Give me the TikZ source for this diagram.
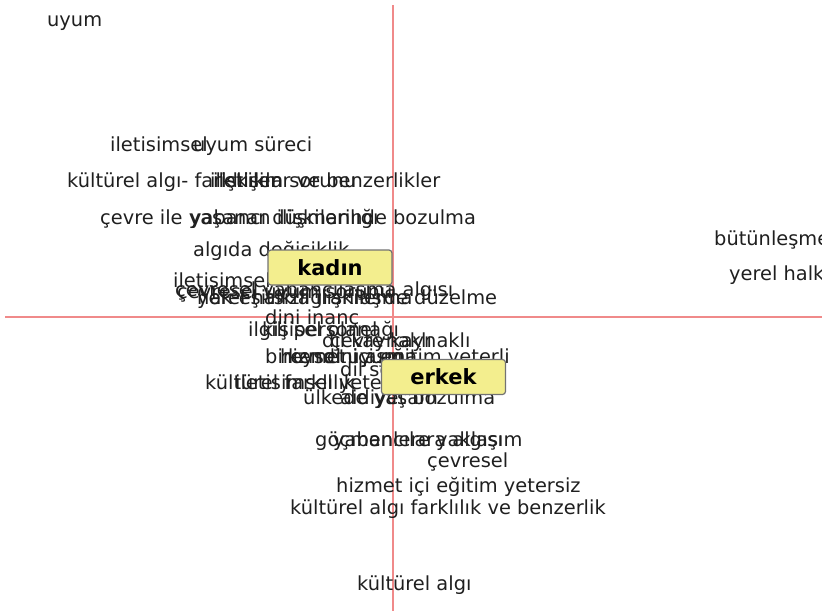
\documentclass[tikz,border=0pt]{standalone}
\usepackage{fontspec}
\setmainfont{DejaVu Sans}
\definecolor{axisred}{HTML}{F08A8A}
\definecolor{boxyellow}{HTML}{F3EE8E}
\definecolor{labeltext}{HTML}{1F1F1F}
\tikzset{
  lbl/.style={anchor=west,inner sep=0pt,text=labeltext,text height=18pt,text depth=5pt,
    font=\fontsize{19.4}{23}\selectfont},
  groupbox/.style={draw=gray!90!black,fill=boxyellow,rounded corners=3pt,line width=1.2pt,
    minimum width=124pt,minimum height=35pt,font=\fontsize{21}{25}\selectfont\bfseries}
}
\begin{document}
\begin{tikzpicture}[x=1pt,y=-1pt]
\useasboundingbox (0,0) rectangle (822,611);
\clip (0,0) rectangle (822,611);
% axes
\coordinate (vtop) at (393,5);
\coordinate (vbot) at (393,611);
\coordinate (hleft) at (5,317);
\coordinate (hright) at (822,317);
\draw [axisred,line width=2.2pt] (vtop) -- (vbot);
\draw [axisred,line width=2.2pt] (hleft) -- (hright);
% upper left
\node [lbl] (uyum) at (47,20) {uyum};
\node [lbl] (iletisim1) at (110,145) {iletisimsel};
\node [lbl] (uyumsureci) at (193,145) {uyum süreci};
\node [lbl] (kalgi1) at (67,181) {kültürel algı- farklılıklar ve benzerlikler};
\node [lbl] (iliskiler) at (210,181) {ilişkiler};
\node [lbl] (iletsorun) at (213,181) {iletişim sorunu};
\node [lbl] (cevreile) at (100,218) {çevre ile yaşanan ilişkilerinde bozulma};
\node [lbl] (yabanci) at (190,218) {yabancı düşmanlığı};
\node [lbl] (algida) at (193,250) {algıda değişiklik};
% cluster round the origin
\node [lbl] (iletisim2) at (173,281) {iletisimsel};
\node [lbl] (cevresel1) at (175,290) {çevresel yabancılaşma algısı};
\node [lbl] (cevresel2) at (177,292) {çevresel uyum sorunu};
\node [lbl] (hakesit) at (197,298) {hak eşitsizliği};
\node [lbl] (yerelhalk1) at (197,298) {yerel halkla ilişkilerde düzelme};
\node [lbl] (anlasma) at (330,298) {anlaşma};
\node [lbl] (dini) at (265,318) {dini inanç};
\node [lbl] (ilgili) at (248,330) {ilgili personel};
\node [lbl] (kisisel) at (262,330) {kişisel olanağı};
\node [lbl] (dilkay) at (322,341) {dil kaynaklı};
\node [lbl] (cevrekay) at (330,341) {çevre kaynaklı};
\node [lbl] (bireysel) at (265,357) {bireysel uyum};
\node [lbl] (kendini) at (288,357) {kendini aşma};
\node [lbl] (hizmet1) at (280,357) {hizmet içi eğitim yeterli};
\node [lbl] (dilsorun) at (340,370) {dil sorunu};
\node [lbl] (kfark) at (205,383) {kültürel farklılık};
\node [lbl] (iletisim3) at (235,383) {iletisimsel yetersizlik};
\node [lbl] (ulkede) at (303,398) {ülkede yaşam};
\node [lbl] (bozulma) at (340,398) {aidiyet bozulma};
% lower part
\node [lbl] (gocmen) at (315,440) {göçmenlere yaklaşım};
\node [lbl] (yabancilar) at (333,440) {yabancılara algısı};
\node [lbl] (cevresel3) at (427,461) {çevresel};
\node [lbl] (hizmet2) at (336,486) {hizmet içi eğitim yetersiz};
\node [lbl] (kalgi2) at (290,508) {kültürel algı farklılık ve benzerlik};
\node [lbl] (kalgi3) at (357,584) {kültürel algı};
% right side
\node [lbl] (butun) at (714,239) {bütünleşme};
\node [lbl] (yerelhalk2) at (729,274) {yerel halkla ilişkiler};
% groups
\node [groupbox] (kadin) at (330,267.5) {kadın};
\node [groupbox] (erkek) at (443.5,377) {erkek};
\end{tikzpicture}
\end{document}
